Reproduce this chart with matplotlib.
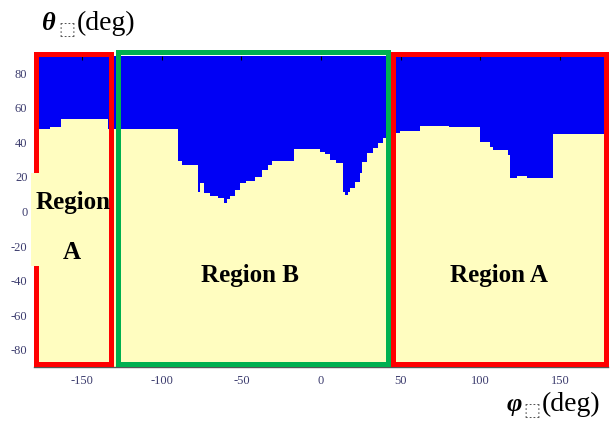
import matplotlib
matplotlib.use("Agg")
import matplotlib.pyplot as plt
from matplotlib.patches import Rectangle

plt.rcParams["axes.unicode_minus"] = False

# Boundary between the two zones: theta limit per phi interval (step edges)
phi_edges = [-180, -170, -163, -134, -90, -87, -77, -76, -73.5, -70, -65, -61,
             -59, -57, -54, -51, -47, -41.5, -37, -33, -31, -17, -0.6, 2.5,
             5.7, 9.4, 13.8, 15, 17, 18.2, 21.4, 24.5, 25.8, 28.9, 32.7, 35.8,
             38.9, 40.8, 43.3, 47, 49.6, 62.2, 80.4, 99.9, 106, 108, 117.5,
             118.7, 123, 129.4, 145.7, 180]
theta_limit = [47.7, 48.8, 53.5, 47.7, 29.1, 26.7, 11.0, 16.3, 10.5, 8.7, 7.6,
               5.2, 7.0, 8.7, 12.2, 16.3, 17.4, 19.8, 23.8, 26.7, 29.1, 36.0,
               34.3, 33.1, 29.7, 27.9, 11.0, 9.3, 11.0, 13.4, 16.9, 22.1, 28.5,
               33.7, 36.6, 39.5, 42.4, 43.6, 43.0, 45.3, 46.5, 49.4, 48.8, 40.1,
               37.2, 35.5, 32.6, 19.2, 20.3, 19.2, 44.8]

x_ticks = [-150, -100, -50, 0, 50, 100, 150]
y_ticks = [-80, -60, -40, -20, 0, 20, 40, 60, 80]

BLUE = "#0000F5"
YELLOW = "#FFFDC0"
RED = "#FF0000"
GREEN = "#00B050"
TICK_COLOR = "#3c3c6e"

W, H = 610, 421
fig = plt.figure(figsize=(W / 100, H / 100), dpi=100)
ax = fig.add_axes([34.4 / W, (H - 367) / H, (607.6 - 34.4) / W, 311 / H])
ax.set_facecolor(BLUE)
ax.stairs(theta_limit, phi_edges, baseline=-90, fill=True, color=YELLOW, zorder=1)
ax.set_xlim(-180, 180)
ax.set_ylim(-90, 90)

ax.set_xticks(x_ticks)
ax.set_yticks(y_ticks)
ax.set_xticklabels([str(v) for v in x_ticks], family="Liberation Serif",
                   fontsize=9, color=TICK_COLOR)
ax.set_yticklabels([str(v) for v in y_ticks], family="Liberation Serif",
                   fontsize=9, color=TICK_COLOR)
ax.tick_params(axis="x", bottom=False, top=True, direction="in", length=3,
               width=0.8, color="black", pad=6)
ax.tick_params(axis="y", length=0, pad=5)
for side in ("top", "left", "right"):
    ax.spines[side].set_visible(False)
ax.spines["bottom"].set_color("#555555")
ax.spines["bottom"].set_linewidth(1.0)

lw = 3.6
boxes = [
    ((-178.7, -88.0), -131.6 - (-178.7), 91.3 - (-88.0), RED),
    ((-127.8, -88.4), 41.8 - (-127.8), 92.2 - (-88.4), GREEN),
    ((45.5, -88.0), 179.0 - 45.5, 91.0 - (-88.0), RED),
]
for (x0, y0), w, h, c in boxes:
    ax.add_patch(Rectangle((x0, y0), w, h, fill=False, edgecolor=c,
                           linewidth=lw, clip_on=False, zorder=5,
                           joinstyle="miter"))

# text box background behind the left label
ax.add_patch(Rectangle((-182.2, -31.4), 6.3, 53.5, facecolor=YELLOW,
                       edgecolor="none", clip_on=False, zorder=6))

label_kw = dict(family="Liberation Serif", fontweight="bold", fontsize=18,
                ha="center", va="center", color="black", zorder=7)
ax.text(-155.8, 5.2, "Region", **label_kw)
ax.text(-156.4, -23.8, "A", **label_kw)
ax.text(-44.6, -37.2, "Region B", **label_kw)
ax.text(111.8, -37.2, "Region A", **label_kw)

def axis_label(xc, yc, sym):
    fig.text(xc / W, 1 - yc / H, sym, family="Liberation Serif",
             fontweight="bold", fontstyle="italic", fontsize=19,
             ha="center", va="center")
    fig.text((xc + 18) / W, 1 - (yc + 7) / H, "\u2b1a",
             family=["DejaVu Sans", "Noto Sans"], fontsize=13, color="#555555",
             ha="center", va="center")
    fig.text((xc + 28) / W, 1 - yc / H, "(deg)", family="Liberation Serif",
             fontsize=20, ha="left", va="center")

axis_label(49, 23, "\u03b8")
axis_label(514, 404, "\u03c6")

fig.savefig("out.png", dpi=100)
